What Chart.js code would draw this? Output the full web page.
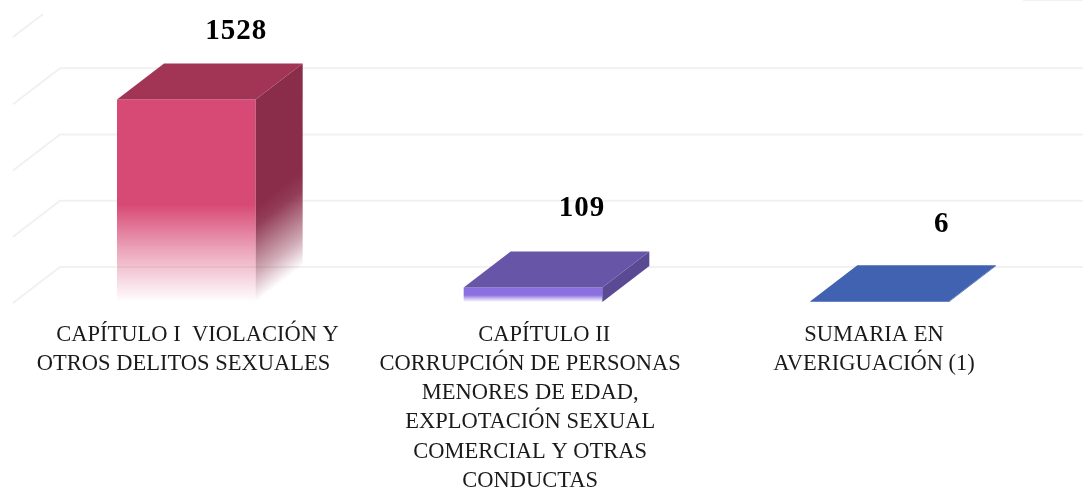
<!DOCTYPE html>
<html>
<head>
<meta charset="utf-8">
<style>
html, body { margin: 0; padding: 0; background: #fff; }
#wrap { width: 1083px; height: 488px; }
</style>
<script src="https://cdn.jsdelivr.net/npm/chart.js@4"></script>
</head>
<body>
<div id="wrap"><canvas id="myChart" width="1083" height="488"></canvas></div>
<script>
// the nbsp runs keep the off-centre lines of the original
var categories = [
    ["\u00a0\u00a0\u00a0\u00a0CAPÍTULO I  VIOLACIÓN Y", "OTROS DELITOS SEXUALES\u00a0"],
    ["\u00a0\u00a0\u00a0\u00a0CAPÍTULO II", "CORRUPCIÓN DE PERSONAS\u00a0", "MENORES DE EDAD,\u00a0", "EXPLOTACIÓN SEXUAL\u00a0", "COMERCIAL Y OTRAS\u00a0", "CONDUCTAS\u00a0"],
    ["SUMARIA EN\u00a0\u00a0", "AVERIGUACIÓN (1)\u00a0\u00a0"]
];
var values = [1528, 109, 6];
var valueTicks = [0, 500, 1000, 1500, 2000];
var frontColors = ["216,74,118", "138,111,224", "74,108,192"];
var topColors = ["#a23556", "#6755a8", "#4162b0"];
var sideColors = ["138,45,74", "90,74,148", "58,90,160"];
var labelShift = [[50, -32], [49, -43], [62, -41]];

var depthX = 47;
var depthY = 36;

var wall = {
    id: "wall",
    beforeDatasetsDraw: function (chart) {
        var c = chart.ctx, y = chart.scales.y, a = chart.chartArea;
        c.save();
        c.strokeStyle = "#f1f1f1";
        c.lineWidth = 2;
        valueTicks.forEach(function (t) {
            var py = y.getPixelForValue(t);
            c.beginPath();
            if (t === 2000) {
                c.moveTo(a.left, py);
                c.lineTo(a.left + depthX * 0.64, py - depthY * 0.64);
                c.moveTo(1023, 0);
                c.lineTo(1083, 0);
            } else {
                c.moveTo(a.left, py + 1);
                c.lineTo(a.left + depthX, py + 1 - depthY);
                c.lineTo(1083, py + 1 - depthY);
            }
            c.stroke();
        });
        c.restore();
    }
};

var box = {
    id: "box",
    afterDatasetsDraw: function (chart) {
        var c = chart.ctx;
        var bars = chart.getDatasetMeta(0).data;
        c.save();
        bars.forEach(function (b, i) {
            var l = b.x - b.width / 2, r = b.x + b.width / 2;
            // side, fades along the depth diagonal
            c.beginPath();
            c.moveTo(r, b.y);
            c.lineTo(r + depthX, b.y - depthY);
            c.lineTo(r + depthX, b.base - depthY);
            c.lineTo(r, b.base);
            c.closePath();
            var h = b.base - b.y;
            var g = c.createLinearGradient(r, b.base - h * 0.47, r + h * 0.227, b.base - h * 0.47 + h * 0.296);
            g.addColorStop(0, "rgba(" + sideColors[i] + ",1)");
            g.addColorStop(0.2, "rgba(" + sideColors[i] + ",0.92)");
            g.addColorStop(0.7, "rgba(" + sideColors[i] + ",0.4)");
            g.addColorStop(1, "rgba(" + sideColors[i] + ",0)");
            c.fillStyle = h > 100 ? g : "rgb(" + sideColors[i] + ")";
            c.fill();
            // top
            c.beginPath();
            c.moveTo(l, b.y);
            c.lineTo(l + depthX, b.y - depthY);
            c.lineTo(r + depthX, b.y - depthY);
            c.lineTo(r, b.y);
            c.closePath();
            c.fillStyle = topColors[i];
            c.fill();
            // value
            c.fillStyle = "#000";
            c.font = "bold 29px 'Liberation Serif'";
            c.letterSpacing = "1px";
            c.textAlign = "center";
            c.textBaseline = "middle";
            c.fillText(String(values[i]), b.x + labelShift[i][0], b.y - depthY + labelShift[i][1]);
        });
        c.restore();
    }
};

var myChart = new Chart(document.getElementById("myChart"), {
    type: "bar",
    data: {
        labels: categories,
        datasets: [{
            data: values,
            barPercentage: 0.4,
            categoryPercentage: 1,
            backgroundColor: function (context) {
                var i = context.dataIndex;
                var area = context.chart.chartArea;
                var rgb = frontColors[i];
                if (!area) return "rgb(" + rgb + ")";
                var top = context.chart.scales.y.getPixelForValue(values[i]);
                var g = context.chart.ctx.createLinearGradient(0, top, 0, area.bottom);
                g.addColorStop(0, "rgba(" + rgb + ",1)");
                g.addColorStop(0.52, "rgba(" + rgb + ",1)");
                g.addColorStop(0.74, "rgba(" + rgb + ",0.5)");
                g.addColorStop(1, "rgba(" + rgb + ",0)");
                return g;
            }
        }]
    },
    options: {
        responsive: false,
        animation: false,
        layout: { padding: { left: 13, right: 30, top: 37, bottom: 0 } },
        plugins: { legend: { display: false }, tooltip: { enabled: false } },
        scales: {
            x: {
                grid: { display: false },
                border: { display: false },
                afterFit: function (scale) { scale.height = 186; },
                ticks: {
                    autoSkip: false,
                    maxRotation: 0,
                    minRotation: 0,
                    padding: 10,
                    color: "#1a1a1a",
                    font: { family: "'Liberation Serif'", size: 22.5, lineHeight: 1.3 }
                }
            },
            y: {
                display: false,
                min: 0,
                max: 2000,
                ticks: { stepSize: 500 }
            }
        }
    },
    plugins: [wall, box]
});
</script>
</body>
</html>
